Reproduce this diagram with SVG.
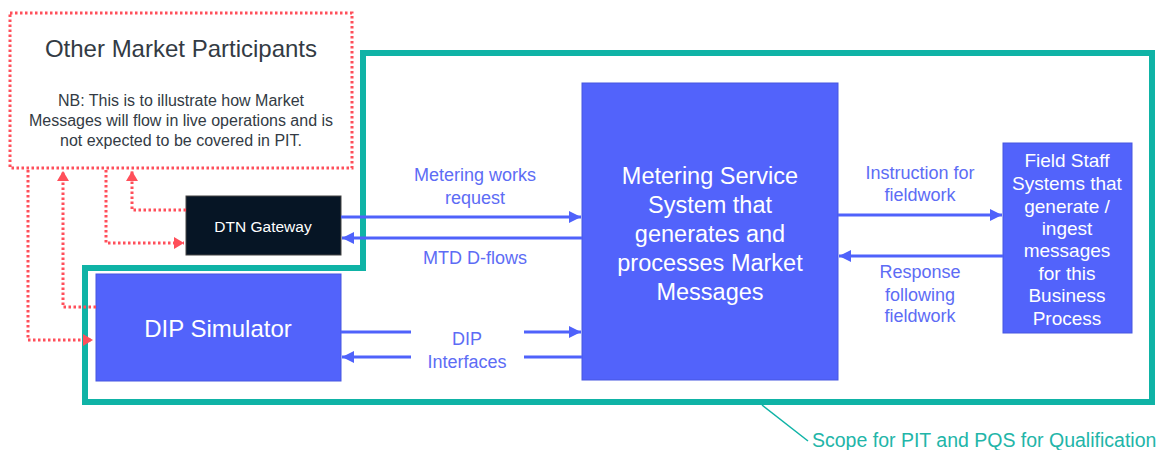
<svg xmlns="http://www.w3.org/2000/svg" width="1165" height="450" viewBox="0 0 1165 450">
<style>
.t{font-family:"Liberation Sans",Arial,sans-serif;text-anchor:middle}
.blue{fill:#5263fb;stroke:#4656e0;stroke-width:1}
.w{fill:#ffffff}
.lbl{fill:#5d6cf5;font-size:18px}
.red{fill:none;stroke:#ff4f5a;stroke-width:3;stroke-dasharray:2.5 2.5}
.bl{fill:none;stroke:#4f62fb;stroke-width:3}
.teal{fill:none;stroke:#0fb3a6;stroke-width:6}
</style>
<defs>
<marker id="ab" markerUnits="userSpaceOnUse" markerWidth="14" markerHeight="12" refX="12" refY="6" orient="auto"><path d="M0,0 L12,6 L0,12 Z" fill="#4f62fb"/></marker>
<marker id="ar" markerUnits="userSpaceOnUse" markerWidth="12" markerHeight="12" refX="10" refY="6" orient="auto"><path d="M0,0 L10,6 L0,12 Z" fill="#ff4f5a"/></marker>
</defs>
<rect x="0" y="0" width="1165" height="450" fill="#ffffff"/>
<g id="scope">
<polyline class="teal" points="363,268 363,53 1152,53 1152,402 85,402 85,268 366,268"/>
<line x1="762" y1="405" x2="808" y2="441" stroke="#0fb3a6" stroke-width="1.5"/>
<text class="t" x="812" y="447" style="fill:#22b5a8;font-size:19.5px;text-anchor:start">Scope for PIT and PQS for Qualification</text>
</g>
<g id="other-market-participants">
<rect x="10" y="13" width="342" height="155" class="red"/>
<text class="t" x="181" y="56.5" style="fill:#333b44;font-size:24px">Other Market Participants</text>
<text class="t" x="181" y="106" style="fill:#333b44;font-size:16px">NB: This is to illustrate  how Market</text>
<text class="t" x="181" y="126" style="fill:#333b44;font-size:16px">Messages will flow in live operations and is</text>
<text class="t" x="181" y="146" style="fill:#333b44;font-size:16px">not expected to be covered in PIT.</text>
</g>
<g id="dtn-gateway">
<rect x="186" y="196" width="155" height="59" fill="#061525" stroke="#444" stroke-width="1"/>
<text class="t w" x="263" y="231.5" style="font-size:15.5px">DTN Gateway</text>
</g>
<g id="dip-simulator">
<rect x="96" y="274" width="245" height="107" class="blue"/>
<text class="t w" x="218" y="336.5" style="font-size:24px">DIP Simulator</text>
</g>
<g id="metering-service">
<rect x="582" y="83" width="256" height="297" class="blue"/>
<text class="t w" style="font-size:23.5px"><tspan x="710" y="183.5">Metering Service</tspan><tspan x="710" y="212.5">System that</tspan><tspan x="710" y="241.5">generates and</tspan><tspan x="710" y="270.5">processes Market</tspan><tspan x="710" y="299.5">Messages</tspan></text>
</g>
<g id="field-staff">
<rect x="1003" y="143" width="129" height="190" class="blue"/>
<text class="t w" style="font-size:19px"><tspan x="1067" y="166.5">Field Staff</tspan><tspan x="1067" y="189.5">Systems that</tspan><tspan x="1067" y="212.5">generate /</tspan><tspan x="1067" y="234.5">ingest</tspan><tspan x="1067" y="256.5">messages</tspan><tspan x="1067" y="279.5">for this</tspan><tspan x="1067" y="301.5">Business</tspan><tspan x="1067" y="324.5">Process</tspan></text>
</g>
<g id="connectors">
<polyline class="red" points="28,170 28,340 93,340" marker-end="url(#ar)"/>
<polyline class="red" points="96,307 63,307 63,171" marker-end="url(#ar)"/>
<polyline class="red" points="106,170 106,243 184,243" marker-end="url(#ar)"/>
<polyline class="red" points="186,210 132,210 132,171" marker-end="url(#ar)"/>
<line class="bl" x1="341" y1="217" x2="581" y2="217" marker-end="url(#ab)"/>
<line class="bl" x1="582" y1="238" x2="342" y2="238" marker-end="url(#ab)"/>
<line class="bl" x1="341" y1="332" x2="411" y2="332"/>
<line class="bl" x1="524" y1="332" x2="581" y2="332" marker-end="url(#ab)"/>
<line class="bl" x1="582" y1="357" x2="524" y2="357"/>
<line class="bl" x1="411" y1="357" x2="342" y2="357" marker-end="url(#ab)"/>
<line class="bl" x1="838" y1="215" x2="1002" y2="215" marker-end="url(#ab)"/>
<line class="bl" x1="1003" y1="256" x2="839" y2="256" marker-end="url(#ab)"/>
<text class="t lbl"><tspan x="475" y="181">Metering works</tspan><tspan x="475" y="204">request</tspan></text>
<text class="t lbl" x="475" y="264">MTD D-flows</text>
<text class="t lbl"><tspan x="467" y="345">DIP</tspan><tspan x="467" y="368">Interfaces</tspan></text>
<text class="t lbl"><tspan x="920" y="179">Instruction for</tspan><tspan x="920" y="201">fieldwork</tspan></text>
<text class="t lbl"><tspan x="920" y="278">Response</tspan><tspan x="920" y="301">following</tspan><tspan x="920" y="322">fieldwork</tspan></text>
</g>
</svg>
